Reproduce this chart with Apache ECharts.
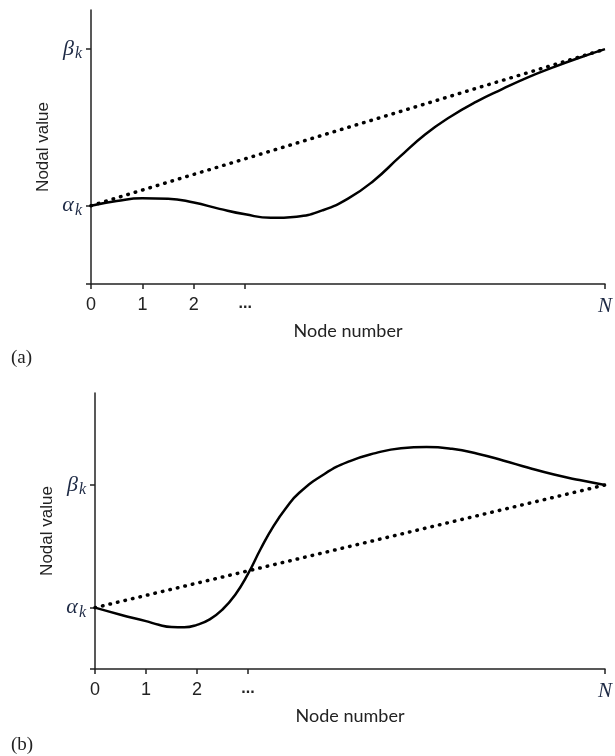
<!DOCTYPE html>
<html>
<head>
<meta charset="utf-8">
<script src="https://cdn.jsdelivr.net/npm/echarts@6/dist/echarts.min.js"></script>
<style>
  html, body { margin: 0; padding: 0; background: #fff; }
  #container { width: 615px; height: 756px; }
</style>
</head>
<body>
<div id="container"></div>
<script type="text/javascript">
    // node positions (0 .. N, with N drawn at 10)
    var nodeXA = [0, 0.5, 1, 1.5, 2, 2.5, 3, 3.5, 4, 4.5, 5, 5.5, 6, 6.5, 7, 7.5, 8, 8.5, 9, 9.5, 10];
    // (a) nodal values, alpha_k = 1, beta_k = 3
    var curveA = [1.00, 1.06, 1.095, 1.09, 1.04, 0.96, 0.89, 0.845, 0.86, 0.94, 1.09, 1.32, 1.62, 1.91, 2.14, 2.33, 2.49, 2.64, 2.77, 2.89, 3.00];
    // (b) node positions, denser where the curve climbs
    var nodeXB = [0, 0.5, 1, 1.25, 1.5, 1.75, 2, 2.25, 2.5, 2.75, 3, 3.25, 3.5, 3.75, 4, 4.5, 5, 5.5, 6, 6.5, 7, 7.5, 8, 8.5, 9, 9.5, 10];
    // (b) nodal values
    var curveB = [1.00, 0.885, 0.78, 0.72, 0.685, 0.68, 0.72, 0.81, 0.97, 1.21, 1.55, 1.96, 2.33, 2.63, 2.87, 3.18, 3.39, 3.52, 3.60, 3.62, 3.59, 3.51, 3.40, 3.28, 3.17, 3.08, 3.00];
    // straight line alpha_k -> beta_k
    var lineX = [0, 10];
    var lineY = [1, 3];
    // tick labels
    var xTicks = [0, 1, 2, 3, 10];
    var xTickText = ['0', '1', '2', '...', 'N'];
    var yTicks = [1, 3];
    var yTickText = ['{g|\u03b1}{s|k}', '{g|\u03b2}{s|k}'];

    function pairs(xs, ys) {
        return xs.map(function (x, i) { return [x, ys[i]]; });
    }

    var myChart = echarts.init(document.getElementById('container'));

    var richY = {
        g: { fontFamily: 'Liberation Serif', fontStyle: 'italic', fontSize: 22, color: '#1e2a45' },
        s: { fontFamily: 'Liberation Serif', fontStyle: 'italic', fontSize: 16, color: '#1e2a45', padding: [10, 0, 0, 1] }
    };

    function xAxisFor(idx, gap) {
        return {
            type: 'value', gridIndex: idx, min: 0, max: 10, interval: 1,
            name: 'Node number', nameLocation: 'middle', nameGap: gap,
            nameTextStyle: { fontFamily: 'Lato', fontSize: 18, color: '#222' },
            axisLine: { lineStyle: { color: '#222', width: 1.5 } },
            axisTick: { customValues: xTicks, length: 5, lineStyle: { color: '#222', width: 1.5 } },
            splitLine: { show: false },
            axisLabel: {
                customValues: xTicks, margin: 12,
                fontFamily: 'Liberation Sans', fontSize: 18, color: '#222',
                rich: {
                    n: { fontFamily: 'Liberation Serif', fontStyle: 'italic', fontSize: 21, color: '#1e2a45' },
                    d: { fontFamily: 'Liberation Sans', fontWeight: 'bold', fontSize: 16, color: '#222' }
                },
                formatter: function (v) {
                    var t = xTickText[xTicks.indexOf(v)];
                    if (t === 'N') return '{n|N}';
                    if (t === '...') return '{d|...}';
                    return t;
                }
            }
        };
    }

    function yAxisFor(idx, max, gap) {
        return {
            type: 'value', gridIndex: idx, min: 0, max: max,
            name: 'Nodal value', nameLocation: 'middle', nameGap: gap, nameRotate: 90,
            nameTextStyle: { fontFamily: 'Liberation Sans', fontSize: 17, color: '#222' },
            axisLine: { show: true, lineStyle: { color: '#222', width: 1.5 } },
            axisTick: { show: true, customValues: [0, 1, 3], length: 5, lineStyle: { color: '#222', width: 1.5 } },
            splitLine: { show: false },
            axisLabel: {
                customValues: yTicks, margin: 9, rich: richY,
                formatter: function (v) { return yTickText[yTicks.indexOf(v)]; }
            }
        };
    }

    var solid = { color: '#000', width: 2.5 };
    var dots = { color: '#000', width: 3.5, type: [0.5, 7.2], cap: 'round' };

    var option = {
        animation: false,
        backgroundColor: '#fff',
        title: [
            { text: '(a)', left: 6, top: 344, textStyle: { fontFamily: 'Liberation Serif', fontWeight: 'normal', fontSize: 19, color: '#222' } },
            { text: '(b)', left: 6, top: 731, textStyle: { fontFamily: 'Liberation Serif', fontWeight: 'normal', fontSize: 19, color: '#222' } }
        ],
        grid: [
            { left: 91, top: 10, width: 518, height: 274 },
            { left: 95, top: 393, width: 517, height: 276 }
        ],
        xAxis: [xAxisFor(0, 38), xAxisFor(1, 38)],
        yAxis: [yAxisFor(0, 3.5, 33), yAxisFor(1, 4.5, 38)],
        series: [
            { type: 'line', xAxisIndex: 0, yAxisIndex: 0, data: pairs(lineX, lineY), showSymbol: false, lineStyle: dots },
            { type: 'line', xAxisIndex: 0, yAxisIndex: 0, data: pairs(nodeXA, curveA), showSymbol: false, smooth: 0.5, lineStyle: solid },
            { type: 'line', xAxisIndex: 1, yAxisIndex: 1, data: pairs(lineX, lineY), showSymbol: false, lineStyle: dots },
            { type: 'line', xAxisIndex: 1, yAxisIndex: 1, data: pairs(nodeXB, curveB), showSymbol: false, smooth: 0.5, lineStyle: solid }
        ]
    };

    myChart.setOption(option);
</script>
</body>
</html>
